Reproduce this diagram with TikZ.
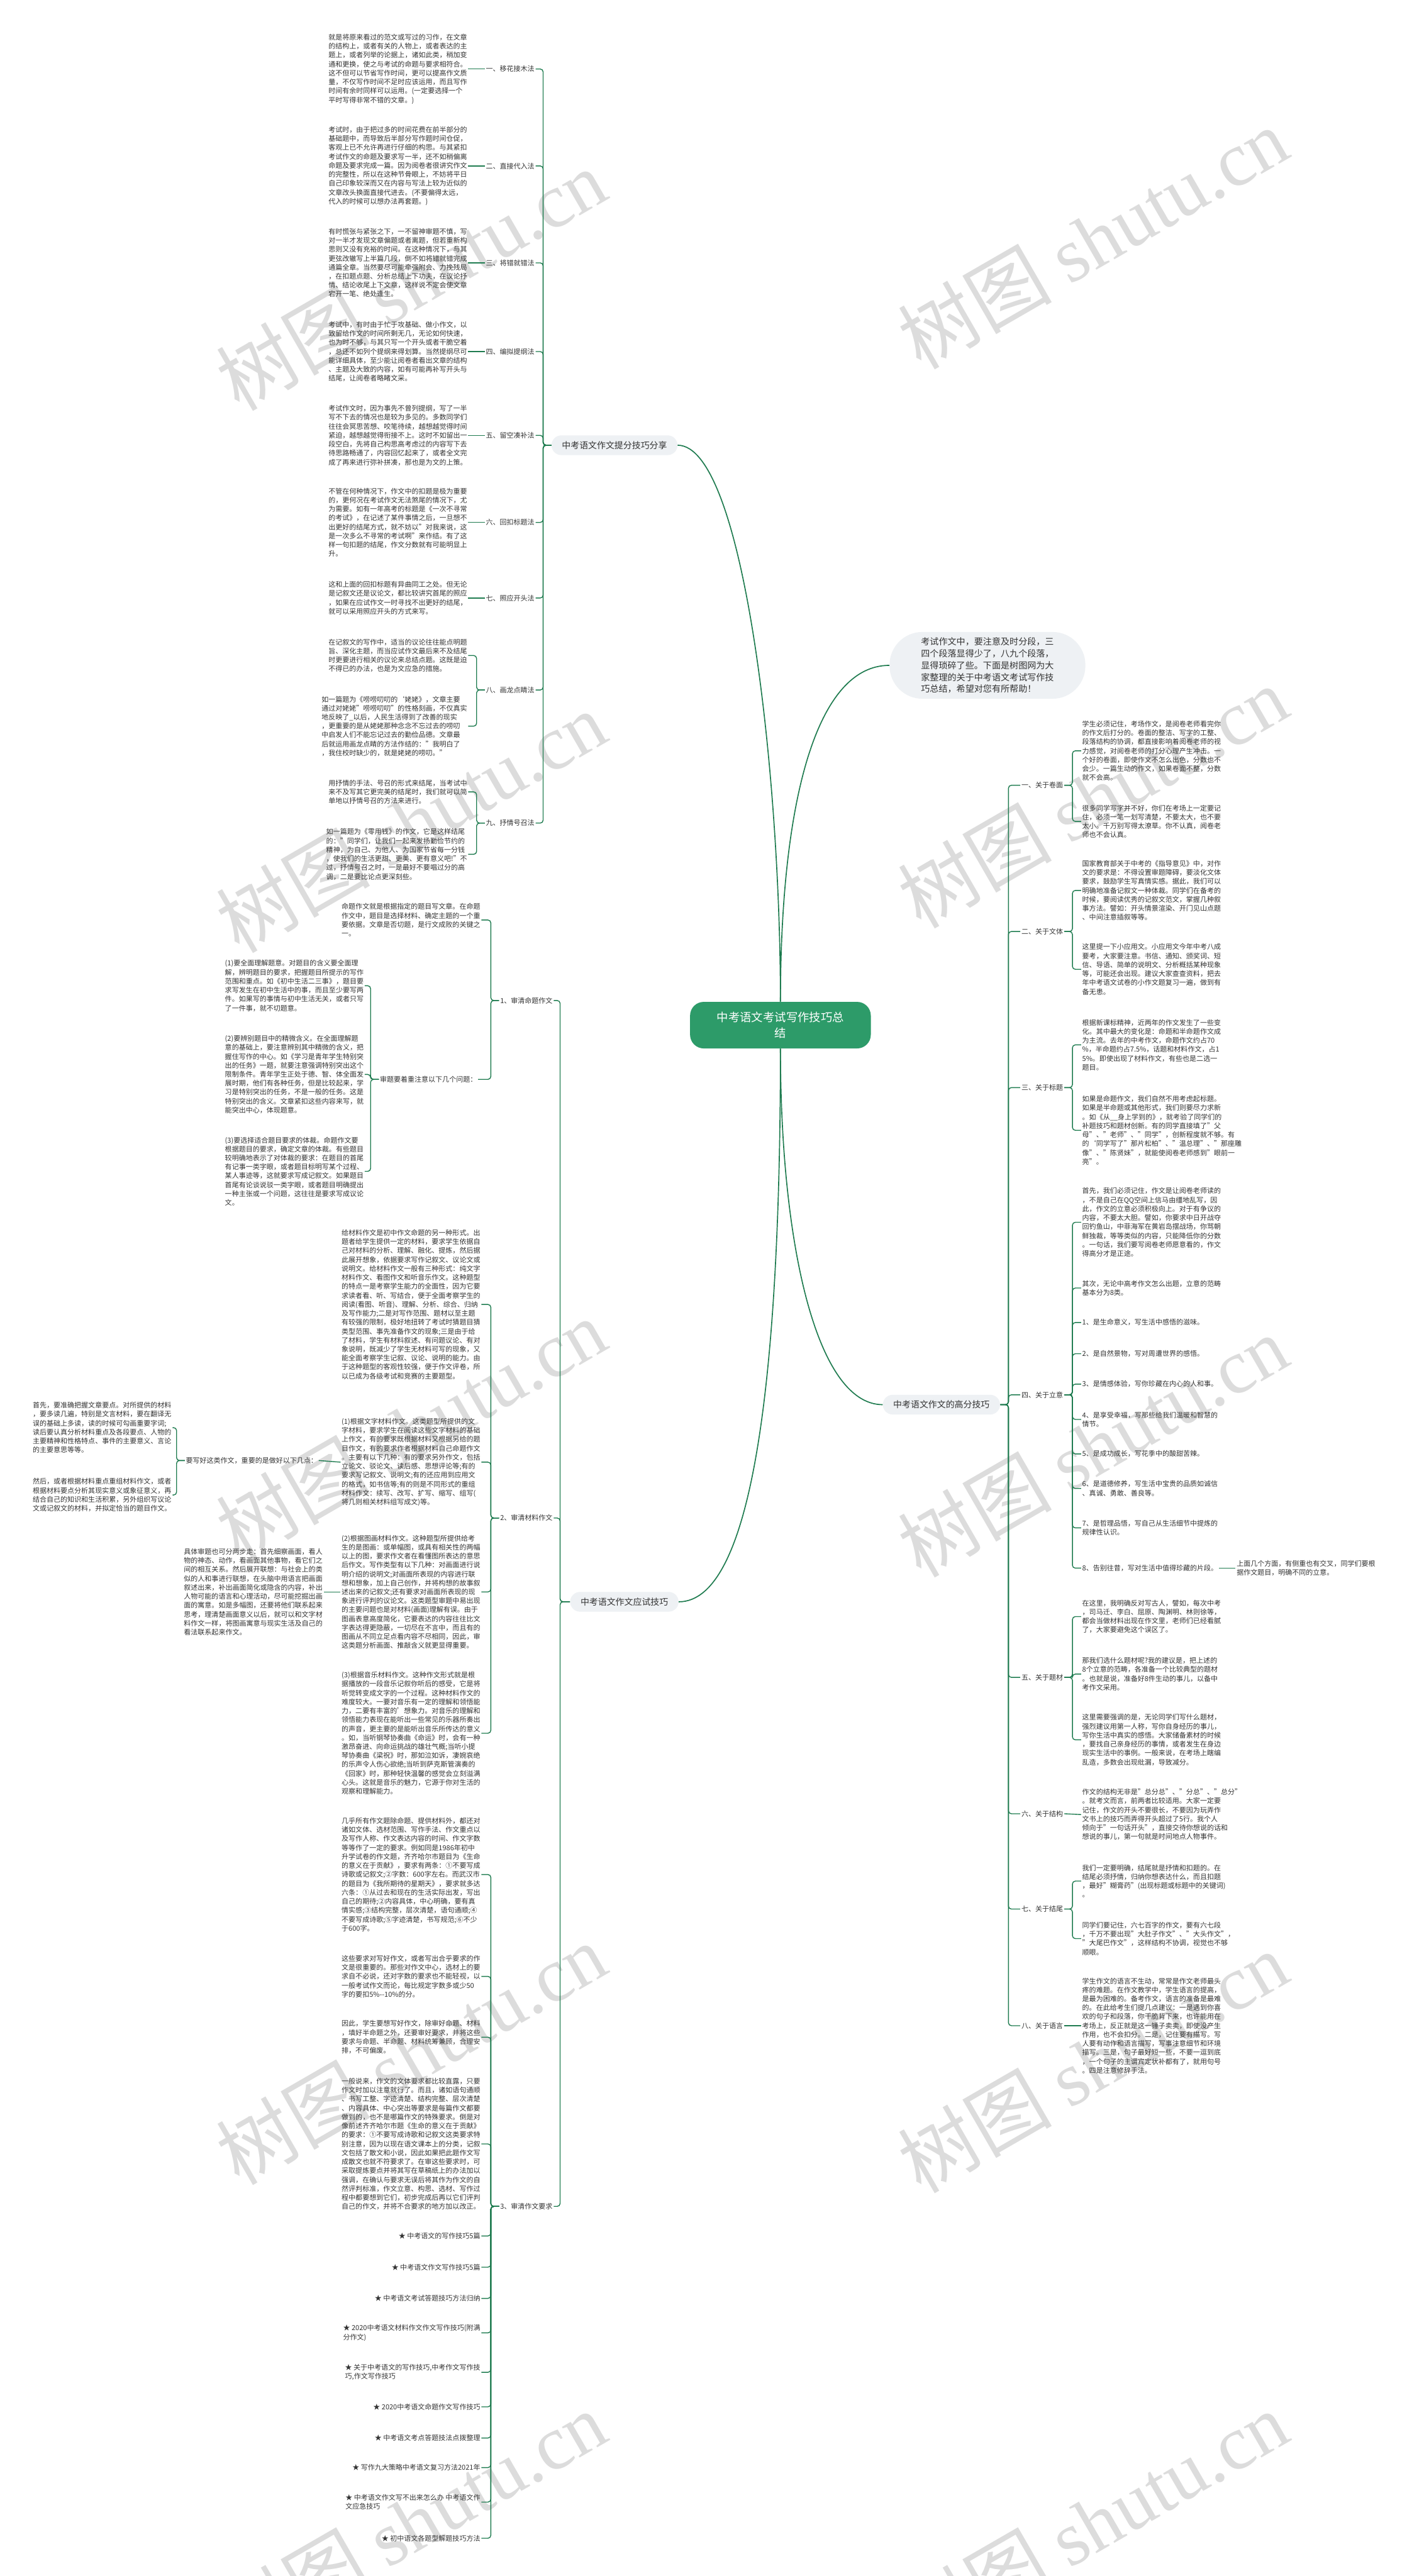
\documentclass[tikz,border=0pt]{standalone}
\usepackage{fontspec}
\setmainfont{Noto Sans CJK SC}
\newfontfamily\wmfont{Liberation Serif}
\definecolor{linegreen}{HTML}{1E7B4F}
\definecolor{rootgreen}{HTML}{2D9B69}
\definecolor{nodegray}{HTML}{EEF1F4}
\definecolor{textgray}{HTML}{333333}
\definecolor{wmgray}{HTML}{DCDCDC}
\tikzset{LINK/.style={draw=linegreen, line width=0.9pt, rounded corners=3pt}}
\tikzset{TRUNK/.style={draw=linegreen, line width=1.1pt}}
\tikzset{TXT/.style={align=left, inner sep=1pt, text=textgray, font=\fontsize{7.2pt}{9.3pt}\selectfont}}
\tikzset{BRANCH/.style={fill=nodegray, rounded corners=0.36cm, minimum height=0.72cm, inner xsep=0.38cm, text=textgray, font=\fontsize{9.1pt}{11pt}\selectfont}}
\tikzset{ROOT/.style={fill=rootgreen, rounded corners=0.5cm, minimum width=6.6cm, minimum height=1.7cm, align=center, text=white, font=\fontsize{12pt}{16.4pt}\selectfont}}
\tikzset{NOTE/.style={fill=nodegray, rounded corners=1.2cm, inner xsep=1.15cm, inner ysep=0.2cm, align=left, text=textgray, font=\fontsize{9.2pt}{12.3pt}\selectfont}}
\tikzset{WMARK/.style={text=wmgray, rotate=30, font=\fontsize{80pt}{80pt}\selectfont}}

\begin{document}
\begin{tikzpicture}[x=0.06cm, y=-0.06cm]
    \fill[white] (0,0) rectangle (856,1568);
    \useasboundingbox (0,0) rectangle (856,1568);

    \foreach \wx/\wy [count=\i] in {250/170, 665/145, 250/500, 665/485, 250/870, 665/880, 250/1250, 665/1255, 250/1535, 665/1535}
        \node[WMARK] (n_wm\i) at (\wx,\wy) {树图 {\wmfont shutu.cn}};

    % centre and first level
    \node[ROOT] (n_root) at (475,624) {中考语文考试写作技巧总\\结};
    \node[NOTE] (n_note) at (601,405) {考试作文中，要注意及时分段，三\\四个段落显得少了，八九个段落，\\显得琐碎了些。下面是树图网为大\\家整理的关于中考语文考试写作技\\巧总结，希望对您有所帮助！};
    \node[BRANCH] (n_tips) at (374,271) {中考语文作文提分技巧分享};
    \node[BRANCH] (n_exam) at (380,975) {中考语文作文应试技巧};
    \node[BRANCH] (n_high) at (573,855) {中考语文作文的高分技巧};

    \draw[TRUNK] (n_root.north) .. controls +(0,-140) and +(40,0) .. (n_tips.east);
    \draw[TRUNK] (n_root.north) .. controls +(0,-120) and +(-45,0) .. (n_note.west);
    \draw[TRUNK] (n_root.south) .. controls +(0,200) and +(45,0) .. (n_exam.east);
    \draw[TRUNK] (n_root.south) .. controls +(0,120) and +(-40,0) .. (n_high.west);

    % branch: tips
    \node[TXT, anchor=east] (n_m1) at (326,42) {一、移花接木法};
    \node[TXT, anchor=east] (n_m2) at (326,101) {二、直接代入法};
    \node[TXT, anchor=east] (n_m3) at (326,160) {三、将错就错法};
    \node[TXT, anchor=east] (n_m4) at (326,214) {四、编拟提纲法};
    \node[TXT, anchor=east] (n_m5) at (326,265) {五、留空凑补法};
    \node[TXT, anchor=east] (n_m6) at (326,318) {六、回扣标题法};
    \node[TXT, anchor=east] (n_m7) at (326,364) {七、照应开头法};
    \node[TXT, anchor=east] (n_m8) at (326,420) {八、画龙点睛法};
    \node[TXT, anchor=east] (n_m9) at (326,501) {九、抒情号召法};

    \node[TXT, anchor=east] (n_t1) at (285,42) {就是将原来看过的范文或写过的习作，在文章\\的结构上，或者有关的人物上，或者表达的主\\题上，或者列举的论据上，诸如此类，稍加变\\通和更换，使之与考试的命题与要求相符合。\\这不但可以节省写作时间，更可以提高作文质\\量，不仅写作时间不足时应该运用，而且写作\\时间有余时同样可以运用。(一定要选择一个\\平时写得非常不错的文章。)};
    \node[TXT, anchor=east] (n_t2) at (285,101) {考试时，由于把过多的时间花费在前半部分的\\基础题中，而导致后半部分写作题时间仓促，\\客观上已不允许再进行仔细的构思。与其紧扣\\考试作文的命题及要求写一半，还不如稍偏离\\命题及要求完成一篇。因为阅卷者很讲究作文\\的完整性，所以在这种节骨眼上，不妨将平日\\自己印象较深而又在内容与写法上较为近似的\\文章改头换面直接代进去。(不要偏得太远，\\代入的时候可以想办法再套题。)};
    \node[TXT, anchor=east] (n_t3) at (285,160) {有时慌张与紧张之下，一不留神审题不慎，写\\对一半才发现文章偏题或者离题，但若重新构\\思则又没有充裕的时间。在这种情况下，与其\\更弦改辙写上半篇几段，倒不如将错就错完成\\通篇全章。当然要尽可能牵强附会、力挽残局\\，在扣题点题、分析总结上下功夫，在议论抒\\情、结论收尾上下文章，这样说不定会使文章\\宕开一笔、绝处逢生。};
    \node[TXT, anchor=east] (n_t4) at (285,214) {考试中，有时由于忙于攻基础、做小作文，以\\致留给作文的时间所剩无几，无论如何快速，\\也为时不够，与其只写一个开头或者干脆空着\\，总还不如列个提纲来得划算。当然提纲尽可\\能详细具体，至少能让阅卷者看出文章的结构\\、主题及大致的内容，如有可能再补写开头与\\结尾，让阅卷者略睹文采。};
    \node[TXT, anchor=east] (n_t5) at (285,265) {考试作文时，因为事先不曾列提纲，写了一半\\写不下去的情况也是较为多见的。多数同学们\\往往会冥思苦想、咬笔待续，越想越觉得时间\\紧迫，越想越觉得衔接不上。这时不如留出一\\段空白，先将自己构思高考虑过的内容写下去\\待思路畅通了，内容回忆起来了，或者全文完\\成了再来进行弥补拼凑，那也是为文的上策。};
    \node[TXT, anchor=east] (n_t6) at (285,318) {不管在何种情况下，作文中的扣题是极为重要\\的，更何况在考试作文无法煞尾的情况下，尤\\为需要。如有一年高考的标题是《一次不寻常\\的考试》，在记述了某件事情之后，一旦想不\\出更好的结尾方式，就不妨以"对我来说，这\\是一次多么不寻常的考试啊"来作结。有了这\\样一句扣题的结尾，作文分数就有可能明显上\\升。};
    \node[TXT, anchor=east] (n_t7) at (285,364) {这和上面的回扣标题有异曲同工之处。但无论\\是记叙文还是议论文，都比较讲究首尾的照应\\，如果在应试作文一时寻找不出更好的结尾，\\就可以采用照应开头的方式来写。};
    \node[TXT, anchor=east] (n_t8a) at (285,399) {在记叙文的写作中，适当的议论往往能点明题\\旨、深化主题，而当应试作文最后来不及结尾\\时更要进行相关的议论来总结点题。这既是迫\\不得已的办法，也是为文应急的措施。};
    \node[TXT, anchor=east] (n_t8b) at (285,442) {如一篇题为《唠唠叨叨的`姥姥》，文章主要\\通过对姥姥"唠唠叨叨"的性格刻画，不仅真实\\地反映了\_以后，人民生活得到了改善的现实\\，更重要的是从姥姥那种念念不忘过去的唠叨\\中启发人们不能忘记过去的勤俭品德。文章最\\后就运用画龙点睛的方法作结的："我明白了\\，我住校时缺少的，就是姥姥的唠叨。"};
    \node[TXT, anchor=east] (n_t9a) at (285,482) {用抒情的手法、号召的形式来结尾，当考试中\\来不及写其它更完美的结尾时，我们就可以简\\单地以抒情号召的方法来进行。};
    \node[TXT, anchor=east] (n_t9b) at (285,520) {如一篇题为《零用钱》的作文，它是这样结尾\\的："同学们，让我们一起来发扬勤俭节约的\\精神，为自己、为他人、为国家节省每一分钱\\，使我们的生活更甜、更美、更有意义吧!"不\\过，抒情号召之时，一是最好不要唱过分的高\\调，二是要比论点更深刻些。};

    \foreach \k in {1,...,9}
        \draw[LINK] (n_tips.west) -- ++(-5,0) |- (n_m\k.east);
    \foreach \k in {1,...,7}
        \draw[LINK] (n_m\k.west) -- (n_t\k.east);
    \draw[LINK] (n_m8.west) -- ++(-5,0) |- (n_t8a.east);
    \draw[LINK] (n_m8.west) -- ++(-5,0) |- (n_t8b.east);
    \draw[LINK] (n_m9.west) -- ++(-5,0) |- (n_t9a.east);
    \draw[LINK] (n_m9.west) -- ++(-5,0) |- (n_t9b.east);

    % branch: exam
    \node[TXT, anchor=east] (n_e1) at (337,609) {1、审清命题作文};
    \node[TXT, anchor=east] (n_e2) at (337,924) {2、审清材料作文};
    \node[TXT, anchor=east] (n_e3) at (337,1343) {3、审清作文要求};

    \node[TXT, anchor=east] (n_e1a) at (293,560) {命题作文就是根据指定的题目写文章。在命题\\作文中，题目是选择材料、确定主题的一个重\\要依据。文章是否切题，是行文成败的关键之\\一。};
    \node[TXT, anchor=east] (n_e1q) at (291,657) {审题要着重注意以下几个问题：};
    \node[TXT, anchor=east] (n_e1q1) at (222,600) {(1)要全面理解题意。对题目的含义要全面理\\解，辨明题目的要求，把握题目所提示的写作\\范围和重点。如《初中生活二三事》，题目要\\求写发生在初中生活中的事，而且至少要写两\\件。如果写的事情与初中生活无关，或者只写\\了一件事，就不切题意。};
    \node[TXT, anchor=east] (n_e1q2) at (222,654) {(2)要辨别题目中的精微含义。在全面理解题\\意的基础上，要注意辨别其中精微的含义，把\\握住写作的中心。如《学习是青年学生特别突\\出的任务》一题，就要注意强调特别突出这个\\限制条件。青年学生正处于德、智、体全面发\\展时期，他们有各种任务，但是比较起来，学\\习是特别突出的任务，不是一般的任务。这是\\特别突出的含义。文章紧扣这些内容来写，就\\能突出中心，体现题意。};
    \node[TXT, anchor=east] (n_e1q3) at (222,713) {(3)要选择适合题目要求的体裁。命题作文要\\根据题目的要求，确定文章的体裁。有些题目\\较明确地表示了对体裁的要求：在题目的首尾\\有记事一类字眼，或者题目标明写某个过程、\\某人事迹等，这就要求写成记叙文。如果题目\\首尾有论谈说驳一类字眼，或者题目明确提出\\一种主张或一个问题，这往往是要求写成议论\\文。};

    \node[TXT, anchor=east] (n_e2a) at (293,794) {给材料作文是初中作文命题的另一种形式。出\\题者给学生提供一定的材料，要求学生依据自\\己对材料的分析、理解、融化、提炼，然后据\\此展开想象，依据要求写作记叙文、议论文或\\说明文。给材料作文一般有三种形式：纯文字\\材料作文、看图作文和听音乐作文。这种题型\\的特点一是考察学生能力的全面性，因为它要\\求读者看、听、写结合，便于全面考察学生的\\阅读(看图、听音)、理解、分析、综合、归纳\\及写作能力;二是对写作范围、题材以至主题\\有较强的限制，极好地扭转了考试时猜题目猜\\类型范围、事先准备作文的现象;三是由于给\\了材料，学生有材料叙述、有问题议论、有对\\象说明，既减少了学生无材料可写的现象，又\\能全面考察学生记叙、议论、说明的能力。由\\于这种题型的客观性较强，便于作文评卷，所\\以已成为各级考试和竞赛的主要题型。};
    \node[TXT, anchor=east] (n_e2w) at (293,890) {(1)根据文字材料作文。这类题型所提供的文\\字材料，要求学生在阅读这些文字材料的基础\\上作文，有的要求既根据材料又根据另给的题\\目作文，有的要求作者根据材料自己命题作文\\。主要有以下几种：有的要求另外作文，包括\\立论文、驳论文、读后感、思想评论等;有的\\要求写记叙文、说明文;有的还应用到应用文\\的格式，如书信等;有的则是不同形式的重组\\材料作文：续写、改写、扩写、缩写、组写(\\将几则相关材料组写成文)等。};
    \node[TXT, anchor=east] (n_e2wk) at (194,889) {要写好这类作文，重要的是做好以下几点：};
    \node[TXT, anchor=east] (n_e2wk1) at (105,869) {首先，要准确把握文章要点。对所提供的材料\\，要多读几遍，特别是文言材料，要在翻译无\\误的基础上多读，读的时候可勾画重要字词;\\读后要认真分析材料重点及各段要点、人物的\\主要精神和性格特点、事件的主要意义、言论\\的主要意思等等。};
    \node[TXT, anchor=east] (n_e2wk2) at (105,910) {然后，或者根据材料重点重组材料作文，或者\\根据材料要点分析其现实意义或象征意义，再\\结合自己的知识和生活积累，另外组织写议论\\文或记叙文的材料，并拟定恰当的题目作文。};
    \node[TXT, anchor=east] (n_e2p) at (293,969) {(2)根据图画材料作文。这种题型所提供给考\\生的是图画：或单幅图，或具有相关性的两幅\\以上的图，要求作文者在看懂图所表达的意思\\后作文。写作类型有以下几种：对画面进行说\\明介绍的说明文;对画面所表现的内容进行联\\想和想象，加上自己创作，并将构想的故事叙\\述出来的记叙文;还有要求对画面所表现的现\\象进行评判的议论文。这类题型审题中易出现\\的主要问题也是对材料(画面)理解有误。由于\\图画表意高度简化，它要表达的内容往往比文\\字表达得更隐蔽，一切尽在不言中，而且有的\\图画从不同立足点看内容不尽相同，因此，审\\这类题分析画面、推敲含义就更显得重要。};
    \node[TXT, anchor=east] (n_e2pk) at (197,969) {具体审题也可分两步走：首先细察画面，看人\\物的神态、动作，看画面其他事物，看它们之\\间的相互关系。然后展开联想：与社会上的类\\似的人和事进行联想，在头脑中用语言把画面\\叙述出来，补出画面简化或隐含的内容，补出\\人物可能的语言和心理活动，尽可能挖掘出画\\面的寓意。如是多幅图，还要将他们联系起来\\思考，理清楚画面意义以后，就可以和文字材\\料作文一样，将图画寓意与现实生活及自己的\\看法联系起来作文。};
    \node[TXT, anchor=east] (n_e2m) at (293,1055) {(3)根据音乐材料作文。这种作文形式就是根\\据播放的一段音乐记叙你听后的感受，它是将\\听觉转变成文字的一个过程。这种材料作文的\\难度较大。一要对音乐有一定的理解和领悟能\\力，二要有丰富的'想象力。对音乐的理解和\\领悟能力表现在能听出一些常见的乐器所奏出\\的声音，更主要的是能听出音乐所传达的意义\\。如，当听钢琴协奏曲《命运》时，会有一种\\激昂奋进、向命运挑战的雄壮气概;当听小提\\琴协奏曲《梁祝》时，那如泣如诉，凄婉哀绝\\的乐声令人伤心欲绝;当听到萨克斯管演奏的\\《回家》时，那种轻快温馨的感觉会立刻溢满\\心头。这就是音乐的魅力，它源于你对生活的\\观察和理解能力。};

    \node[TXT, anchor=east] (n_e3a) at (293,1141) {几乎所有作文题除命题、提供材料外，都还对\\诸如文体、选材范围、写作手法、作文重点以\\及写作人称、作文表达内容的时间、作文字数\\等等作了一定的要求。例如同是1986年初中\\升学试卷的作文题，齐齐哈尔市题目为《生命\\的意义在于贡献》，要求有两条：①不要写成\\诗歌或记叙文;②字数：600字左右。而武汉市\\的题目为《我所期待的星期天》，要求就多达\\六条：①从过去和现在的生活实际出发，写出\\自己的期待;②内容具体，中心明确，要有真\\情实感;③结构完整，层次清楚，语句通顺;④\\不要写成诗歌;⑤字迹清楚，书写规范;⑥不少\\于600字。};
    \node[TXT, anchor=east] (n_e3b) at (293,1203) {这些要求对写好作文，或者写出合乎要求的作\\文是很重要的。那些对作文中心，选材上的要\\求自不必说，还对字数的要求也不能轻视，以\\一般考试作文而论，每比规定字数多或少50\\字的要扣5\%-{}-10\%的分。};
    \node[TXT, anchor=east] (n_e3c) at (293,1240) {因此，学生要想写好作文，除审好命题、材料\\，填好半命题之外，还要审好要求，并将这些\\要求与命题、半命题、材料统筹兼顾，合理安\\排，不可偏废。};
    \node[TXT, anchor=east] (n_e3d) at (293,1305) {一般说来，作文的文体要求都比较直露，只要\\作文时加以注意就行了。而且，诸如语句通顺\\、书写工整、字迹清楚、结构完整、层次清楚\\、内容具体、中心突出等要求是每篇作文都要\\做到的，也不是哪篇作文的特殊要求。倒是对\\像前述齐齐哈尔市题《生命的意义在于贡献》\\的要求：①不要写成诗歌和记叙文这类要求特\\别注意，因为以现在语文课本上的分类，记叙\\文包括了散文和小说，因此如果把此题作文写\\成散文也就不符要求了。在审这些要求时，可\\采取提炼要点并将其写在草稿纸上的办法加以\\强调，在确认与要求无误后将其作为作文的自\\然评判标准，作文立意、构思、选材、写作过\\程中都要想到它们，初步完成后再以它们评判\\自己的作文，并将不合要求的地方加以改正。};

    \node[TXT, anchor=east] (n_s1) at (293,1361) {★ 中考语文的写作技巧5篇};
    \node[TXT, anchor=east] (n_s2) at (293,1380) {★ 中考语文作文写作技巧5篇};
    \node[TXT, anchor=east] (n_s3) at (293,1399) {★ 中考语文考试答题技巧方法归纳};
    \node[TXT, anchor=east] (n_s4) at (293,1420) {★ 2020中考语文材料作文作文写作技巧(附满\\分作文)};
    \node[TXT, anchor=east] (n_s5) at (293,1444) {★ 关于中考语文的写作技巧,中考作文写作技\\巧,作文写作技巧};
    \node[TXT, anchor=east] (n_s6) at (293,1465) {★ 2020中考语文命题作文写作技巧};
    \node[TXT, anchor=east] (n_s7) at (293,1484) {★ 中考语文考点答题技法点拨整理};
    \node[TXT, anchor=east] (n_s8) at (293,1502) {★ 写作九大策略中考语文复习方法2021年};
    \node[TXT, anchor=east] (n_s9) at (293,1523) {★ 中考语文作文写不出来怎么办 中考语文作\\文应急技巧};
    \node[TXT, anchor=east] (n_s10) at (293,1545) {★ 初中语文各题型解题技巧方法};

    \foreach \k in {1,2,3}
        \draw[LINK] (n_exam.west) -- ++(-6,0) |- (n_e\k.east);
    \foreach \c in {n_e1a, n_e1q}
        \draw[LINK] (n_e1.west) -- ++(-5,0) |- (\c.east);
    \foreach \k in {1,2,3}
        \draw[LINK] (n_e1q.west) -- ++(-5,0) |- (n_e1q\k.east);
    \foreach \c in {n_e2a, n_e2w, n_e2p, n_e2m}
        \draw[LINK] (n_e2.west) -- ++(-5,0) |- (\c.east);
    \draw[LINK] (n_e2w.west) -- (n_e2wk.east);
    \draw[LINK] (n_e2wk.west) -- ++(-5,0) |- (n_e2wk1.east);
    \draw[LINK] (n_e2wk.west) -- ++(-5,0) |- (n_e2wk2.east);
    \draw[LINK] (n_e2p.west) -- (n_e2pk.east);
    \foreach \c in {n_e3a, n_e3b, n_e3c, n_e3d}
        \draw[LINK] (n_e3.west) -- ++(-5,0) |- (\c.east);
    \foreach \k in {1,...,10}
        \draw[LINK] (n_e3.west) -- ++(-5,0) |- (n_s\k.east);

    % branch: high score
    \node[TXT, anchor=west] (n_r1) at (621,478) {一、关于卷面};
    \node[TXT, anchor=west] (n_r2) at (621,567) {二、关于文体};
    \node[TXT, anchor=west] (n_r3) at (621,662) {三、关于标题};
    \node[TXT, anchor=west] (n_r4) at (621,849) {四、关于立意};
    \node[TXT, anchor=west] (n_r5) at (621,1021) {五、关于题材};
    \node[TXT, anchor=west] (n_r6) at (621,1104) {六、关于结构};
    \node[TXT, anchor=west] (n_r7) at (621,1162) {七、关于结尾};
    \node[TXT, anchor=west] (n_r8) at (621,1233) {八、关于语言};

    \node[TXT, anchor=west] (n_r1a) at (658,457) {学生必须记住，考场作文，是阅卷老师看完你\\的作文后打分的。卷面的整洁、写字的工整、\\段落结构的协调，都直接影响着阅卷老师的视\\力感觉，对阅卷老师的打分心理产生冲击。一\\个好的卷面，即使作文不怎么出色，分数也不\\会少。一篇生动的作文，如果卷面不整，分数\\就不会高。};
    \node[TXT, anchor=west] (n_r1b) at (658,500) {很多同学写字并不好，你们在考场上一定要记\\住，必须一笔一划写清楚，不要太大，也不要\\太小。千万别写得太潦草。你不认真，阅卷老\\师也不会认真。};
    \node[TXT, anchor=west] (n_r2a) at (658,542) {国家教育部关于中考的《指导意见》中，对作\\文的要求是：不得设置审题障碍，要淡化文体\\要求，鼓励学生写真情实感。据此，我们可以\\明确地准备记叙文一种体裁。同学们在备考的\\时候，要阅读优秀的记叙文范文，掌握几种叙\\事方法。譬如：开头情景渲染、开门见山点题\\、中间注意插叙等等。};
    \node[TXT, anchor=west] (n_r2b) at (658,590) {这里提一下小应用文。小应用文今年中考八成\\要考，大家要注意。书信、通知、颁奖词、短\\信、导语、简单的说明文、分析概括某种现象\\等，可能还会出现。建议大家查查资料，把去\\年中考语文试卷的小作文题复习一遍，做到有\\备无患。};
    \node[TXT, anchor=west] (n_r3a) at (658,636) {根据新课标精神，近两年的作文发生了一些变\\化。其中最大的变化是：命题和半命题作文成\\为主流。去年的中考作文，命题作文约占70\\\%，半命题约占7.5\%，话题和材料作文，占1\\5\%。即使出现了材料作文，有些也是二选一\\题目。};
    \node[TXT, anchor=west] (n_r3b) at (658,688) {如果是命题作文，我们自然不用考虑起标题。\\如果是半命题或其他形式，我们则要尽力求新\\。如《从\_\_身上学到的》，就考验了同学们的\\补题技巧和题材创新。有的同学直接填了"父\\母"、"老师"、"同学"，创新程度就不够。有\\的`同学写了"那片松柏"、"温总理"、"那座雕\\像"、"陈贤妹"，就能使阅卷老师感到"眼前一\\亮"。};
    \node[TXT, anchor=west] (n_r4a) at (658,744) {首先，我们必须记住，作文是让阅卷老师读的\\，不是自己在QQ空间上信马由缰地乱写，因\\此，作文的立意必须积极向上。对于有争议的\\内容，不要太大胆。譬如，你要求中日开战夺\\回钓鱼山，中菲海军在黄岩岛摆战场，你骂朝\\鲜独裁，等等类似的内容，只能降低你的分数\\。一句话，我们要写阅卷老师愿意看的，作文\\得高分才是正途。};
    \node[TXT, anchor=west] (n_r4b) at (658,784) {其次，无论中高考作文怎么出题，立意的范畴\\基本分为8类。};
    \node[TXT, anchor=west] (n_r4c1) at (658,805) {1、是生命意义，写生活中感悟的滋味。};
    \node[TXT, anchor=west] (n_r4c2) at (658,824) {2、是自然景物，写对周遭世界的感悟。};
    \node[TXT, anchor=west] (n_r4c3) at (658,842.5) {3、是情感体验，写你珍藏在内心的人和事。};
    \node[TXT, anchor=west] (n_r4c4) at (658,864) {4、是享受幸福，写那些给我们温暖和智慧的\\情节。};
    \node[TXT, anchor=west] (n_r4c5) at (658,885) {5、是成功成长，写花季中的酸甜苦辣。};
    \node[TXT, anchor=west] (n_r4c6) at (658,906) {6、是道德修养，写生活中宝贵的品质如诚信\\、真诚、勇敢、善良等。};
    \node[TXT, anchor=west] (n_r4c7) at (658,930) {7、是哲理品悟，写自己从生活细节中提炼的\\规律性认识。};
    \node[TXT, anchor=west] (n_r4c8) at (658,954.5) {8、告别往昔，写对生活中值得珍藏的片段。};
    \node[TXT, anchor=west] (n_r4x) at (752,954.5) {上面几个方面，有侧重也有交叉，同学们要根\\据作文题目，明确不同的立意。};
    \node[TXT, anchor=west] (n_r5a) at (658,984) {在这里，我明确反对写古人，譬如，每次中考\\，司马迁、李白、屈原、陶渊明、林则徐等，\\都会当做材料出现在作文里，老师们已经看腻\\了，大家要避免这个误区了。};
    \node[TXT, anchor=west] (n_r5b) at (658,1019) {那我们选什么题材呢?我的建议是，把上述的\\8个立意的范畴，各准备一个比较典型的题材\\。也就是说，准备好8件生动的事儿，以备中\\考作文采用。};
    \node[TXT, anchor=west] (n_r5c) at (658,1059) {这里需要强调的是，无论同学们写什么题材，\\强烈建议用第一人称，写你自身经历的事儿，\\写你生活中真实的感悟。大家储备素材的时候\\，要找自己亲身经历的事情，或者发生在身边\\现实生活中的事例。一般来说，在考场上瞎编\\乱造，多数会出现纰漏，导致减分。};
    \node[TXT, anchor=west] (n_r6a) at (658,1104.5) {作文的结构无非是"总分总"、"分总"、"总分"\\。就考文而言，前两者比较适用。大家一定要\\记住，作文的开头不要很长，不要因为玩弄作\\文书上的技巧而弄得开头超过了5行。我个人\\倾向于"一句话开头"，直接交待你想说的话和\\想说的事儿，第一句就是时间地点人物事件。};
    \node[TXT, anchor=west] (n_r7a) at (658,1145) {我们一定要明确，结尾就是抒情和扣题的。在\\结尾必须抒情，归纳你想表达什么，而且扣题\\，最好"糊膏药"(出现标题或标题中的关键词)\\。};
    \node[TXT, anchor=west] (n_r7b) at (658,1180) {同学们要记住，六七百字的作文，要有六七段\\，千万不要出现"大肚子作文"、"大头作文"，\\"大尾巴作文"，这样结构不协调，视觉也不够\\顺眼。};
    \node[TXT, anchor=west] (n_r8a) at (658,1233) {学生作文的语言不生动，常常是作文老师最头\\疼的难题。在作文教学中，学生语言的提高，\\是最为困难的。备考作文，语言的准备是最难\\的。在此给考生们提几点建议：一是遇到你喜\\欢的句子和段落，你干脆背下来，也许能用在\\考场上，反正就是这一锤子卖卖，即使没产生\\作用，也不会扣分。二是，记住要有描写。写\\人要有动作和语言描写，写事注意细节和环境\\描写。三是，句子最好短一些，不要一逗到底\\，一个句子的主谓宾定状补都有了，就用句号\\。四是注意修辞手法。};

    \foreach \k in {1,...,8}
        \draw[LINK] (n_high.east) -- ++(5,0) |- (n_r\k.west);
    \foreach \c in {n_r1a, n_r1b}
        \draw[LINK] (n_r1.east) -- ++(5,0) |- (\c.west);
    \foreach \c in {n_r2a, n_r2b}
        \draw[LINK] (n_r2.east) -- ++(5,0) |- (\c.west);
    \foreach \c in {n_r3a, n_r3b}
        \draw[LINK] (n_r3.east) -- ++(5,0) |- (\c.west);
    \foreach \c in {n_r4a, n_r4b, n_r4c1, n_r4c2, n_r4c3, n_r4c4, n_r4c5, n_r4c6, n_r4c7, n_r4c8}
        \draw[LINK] (n_r4.east) -- ++(5,0) |- (\c.west);
    \draw[LINK] (n_r4c8.east) -- (n_r4x.west);
    \foreach \c in {n_r5a, n_r5b, n_r5c}
        \draw[LINK] (n_r5.east) -- ++(5,0) |- (\c.west);
    \draw[LINK] (n_r6.east) -- (n_r6a.west);
    \foreach \c in {n_r7a, n_r7b}
        \draw[LINK] (n_r7.east) -- ++(5,0) |- (\c.west);
    \draw[LINK] (n_r8.east) -- (n_r8a.west);
\end{tikzpicture}
\end{document}
